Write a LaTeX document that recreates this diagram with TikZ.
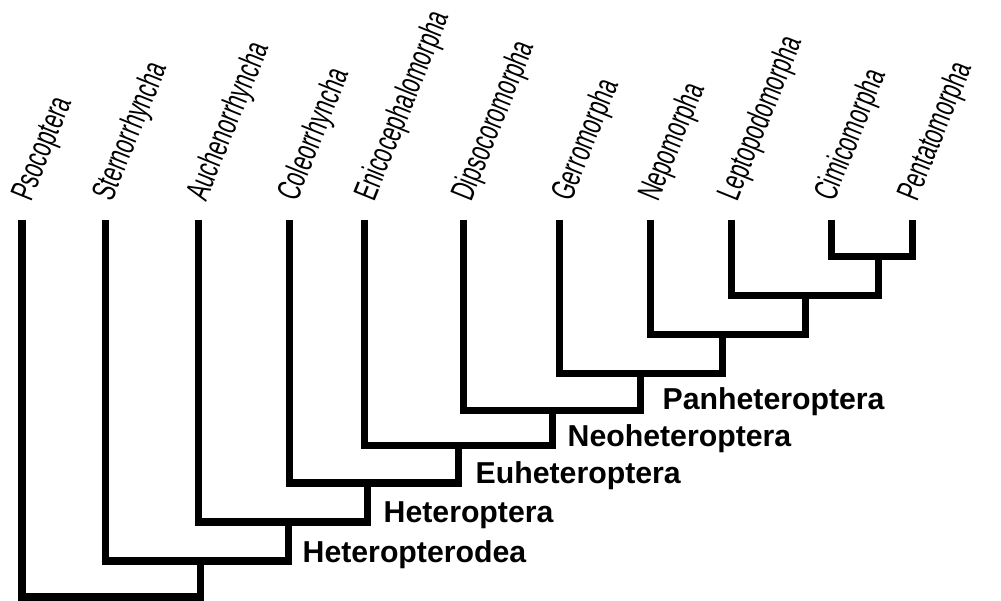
\documentclass[tikz,border=0pt]{standalone}
\usepackage{fontspec}
\setmainfont{Liberation Sans}
\usepackage{tikz}

\begin{document}
\begin{tikzpicture}[
  x=0.01cm, y=-0.01cm,
  branch/.style={line width=0.7mm, line join=miter},
  taxon/.style={font=\fontsize{9.5}{10}\selectfont, transform shape, rotate=68, xscale=0.64, anchor=base west, inner sep=0pt},
  clade/.style={font=\fontsize{8.6}{10}\selectfont\bfseries, anchor=base west, inner sep=0pt}
]
\useasboundingbox (0,0) rectangle (1001,601);

\coordinate (psoc) at (22,220);
\coordinate (ster) at (105,220);
\coordinate (auch) at (198,220);
\coordinate (coleo) at (289,220);
\coordinate (enico) at (364,220);
\coordinate (dipso) at (463,220);
\coordinate (gerro) at (559,220);
\coordinate (nepo) at (650,220);
\coordinate (lepto) at (731,220);
\coordinate (cimi) at (831,220);
\coordinate (penta) at (912,220);

\node[taxon] (psoc-l) at ([shift={(9,-17)}]psoc) {Psocoptera};
\node[taxon] (ster-l) at ([shift={(7,-17)}]ster) {Sternorrhyncha};
\node[taxon] (auch-l) at ([shift={(8,-17)}]auch) {Auchenorrhyncha};
\node[taxon] (coleo-l) at ([shift={(8,-17)}]coleo) {Coleorrhyncha};
\node[taxon] (enico-l) at ([shift={(10,-17)}]enico) {Enicocephalomorpha};
\node[taxon] (dipso-l) at ([shift={(8,-17)}]dipso) {Dipsocoromorpha};
\node[taxon] (gerro-l) at ([shift={(12,-17)}]gerro) {Gerromorpha};
\node[taxon] (nepo-l) at ([shift={(8,-17)}]nepo) {Nepomorpha};
\node[taxon] (lepto-l) at ([shift={(6,-17)}]lepto) {Leptopodomorpha};
\node[taxon] (cimi-l) at ([shift={(3,-17)}]cimi) {Cimicomorpha};
\node[taxon] (penta-l) at ([shift={(5,-17)}]penta) {Pentatomorpha};

\coordinate (cp) at (878,257);
\coordinate (lcp) at (805,296);
\coordinate (panh) at (722,335);
\coordinate (neoh) at (640,374);
\coordinate (euh) at (552,411);
\coordinate (het) at (458,446);
\coordinate (hetd) at (367,483);
\coordinate (auhd) at (288,522);
\coordinate (hemi) at (200,561);
\coordinate (root) at (111,597);

\draw[branch] (cimi) |- (cp) -| (penta);
\draw[branch] (lepto) |- (lcp) -| (cp);
\draw[branch] (nepo) |- (panh) -| (lcp);
\draw[branch] (gerro) |- (neoh) -| (panh);
\draw[branch] (dipso) |- (euh) -| (neoh);
\draw[branch] (enico) |- (het) -| (euh);
\draw[branch] (coleo) |- (hetd) -| (het);
\draw[branch] (auch) |- (auhd) -| (hetd);
\draw[branch] (ster) |- (hemi) -| (auhd);
\draw[branch] (psoc) |- (root) -| (hemi);

\node[clade] (panh-l) at ([shift={(22,-1)}]neoh |- euh) {Panheteroptera};
\node[clade] (neoh-l) at ([shift={(15,1)}]euh |- het) {Neoheteroptera};
\node[clade] (euh-l) at ([shift={(17,1)}]het |- hetd) {Euheteroptera};
\node[clade] (het-l) at ([shift={(16,1)}]hetd |- auhd) {Heteroptera};
\node[clade] (hetd-l) at ([shift={(14,1)}]auhd |- hemi) {Heteropterodea};
\end{tikzpicture}
\end{document}
